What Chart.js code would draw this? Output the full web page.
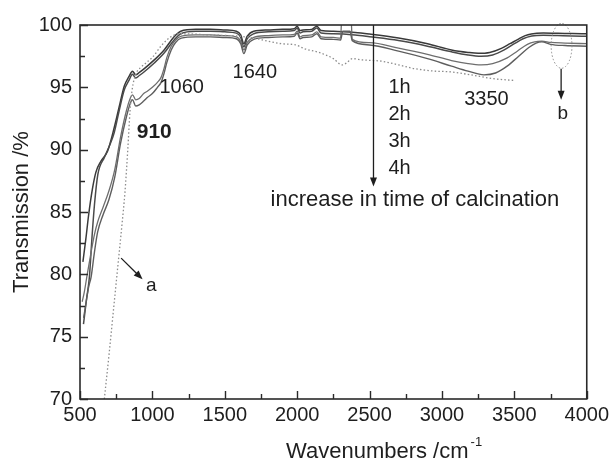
<!DOCTYPE html>
<html>
<head>
<meta charset="utf-8">
<script src="https://cdn.jsdelivr.net/npm/chart.js@4/dist/chart.umd.min.js"></script>
<style>
	body	{ margin: 0; background: #fff; }
	canvas	{ display: block; }
</style>
</head>
<body>
<canvas id="ftir" width="613" height="466"></canvas>
<script>
// tick values
const xTicks	= [ 500, 1000, 1500, 2000, 2500, 3000, 3500, 4000 ];
const yTicks	= [ 70, 75, 80, 85, 90, 95, 100 ];

// 1h
const wn1h	= [ 520, 540, 560, 585, 610, 646, 691, 737, 770, 806, 840, 862, 885, 910, 944, 1013, 1081, 1150, 1196, 1300, 1400, 1500, 1580, 1610, 1632, 1655, 1700, 1800, 1900, 1980, 2000, 2020, 2040, 2100, 2136, 2165, 2250, 2400, 2500, 2700, 2900, 3066, 3180, 3250, 3330, 3410, 3470, 3525, 3575, 3617, 3700, 3800, 3900, 4000 ];
const tr1h	= [ 81.0, 82.8, 84.8, 86.8, 88.2, 89.1, 89.9, 91.8, 93.4, 95.1, 95.9, 96.3, 96.0, 96.2, 96.5, 97.2, 98.0, 99.06, 99.5, 99.65, 99.65, 99.6, 99.5, 99.2, 98.5, 99.1, 99.5, 99.6, 99.65, 99.7, 99.9, 99.55, 99.6, 99.65, 99.9, 99.55, 99.5, 99.4, 99.27, 98.95, 98.5, 98.0, 97.8, 97.73, 97.8, 98.13, 98.5, 98.85, 99.15, 99.28, 99.35, 99.33, 99.32, 99.3 ];

// 2h
const wn2h	= [ 524, 545, 565, 583, 600, 623, 669, 710, 737, 770, 806, 840, 862, 885, 910, 944, 1013, 1081, 1150, 1196, 1300, 1400, 1500, 1580, 1610, 1632, 1655, 1700, 1800, 1900, 1980, 2000, 2020, 2040, 2100, 2136, 2165, 2250, 2400, 2500, 2700, 2900, 3066, 3180, 3270, 3350, 3430, 3500, 3560, 3620, 3700, 3800, 3900, 4000 ];
const tr2h	= [ 76.0, 78.0, 79.8, 83.0, 85.6, 88.0, 89.4, 90.5, 91.4, 93.1, 94.8, 95.6, 96.05, 95.75, 95.95, 96.25, 96.95, 97.75, 98.8, 99.3, 99.5, 99.5, 99.45, 99.35, 99.0, 98.25, 98.9, 99.3, 99.45, 99.5, 99.55, 99.75, 99.35, 99.45, 99.5, 99.75, 99.35, 99.3, 99.2, 99.06, 98.75, 98.3, 97.85, 97.6, 97.5, 97.6, 98.0, 98.5, 98.9, 99.12, 99.18, 99.15, 99.12, 99.1 ];

// 3h
const wn3h	= [ 515, 530, 550, 577, 600, 622, 660, 700, 740, 780, 820, 850, 863, 885, 909, 940, 967, 1000, 1035, 1060, 1080, 1100, 1130, 1160, 1200, 1300, 1400, 1500, 1580, 1610, 1632, 1655, 1700, 1800, 1900, 1980, 2000, 2020, 2040, 2100, 2136, 2165, 2250, 2300, 2308, 2372, 2380, 2500, 2700, 2900, 3066, 3180, 3270, 3350, 3440, 3520, 3590, 3640, 3690, 3750, 3850, 4000 ];
const tr3h	= [ 77.8, 78.6, 80.0, 81.8, 83.2, 84.2, 85.4, 86.7, 88.4, 91.0, 93.1, 94.2, 94.4, 94.0, 94.1, 94.5, 94.7, 95.0, 95.4, 95.8, 96.5, 97.4, 98.3, 98.8, 99.1, 99.2, 99.2, 99.15, 99.05, 98.7, 98.0, 98.6, 99.0, 99.15, 99.2, 99.25, 99.5, 99.05, 99.15, 99.2, 99.45, 99.05, 99.0, 98.95, 100.6, 100.6, 98.85, 98.58, 98.15, 97.65, 97.15, 96.9, 96.8, 96.9, 97.3, 97.9, 98.45, 98.65, 98.7, 98.6, 98.55, 98.5 ];

// 4h
const wn4h	= [ 525, 540, 560, 577, 600, 622, 660, 700, 740, 780, 820, 850, 863, 885, 909, 940, 967, 1000, 1035, 1060, 1080, 1100, 1130, 1160, 1200, 1300, 1400, 1500, 1580, 1610, 1632, 1655, 1700, 1800, 1900, 1980, 2000, 2020, 2040, 2100, 2136, 2165, 2250, 2300, 2315, 2365, 2380, 2500, 2700, 2900, 3066, 3180, 3290, 3370, 3450, 3530, 3600, 3650, 3690, 3750, 3850, 4000 ];
const tr4h	= [ 76.5, 77.6, 79.0, 79.8, 81.8, 83.4, 84.8, 86.0, 87.8, 90.5, 92.6, 93.8, 94.0, 93.5, 93.6, 93.9, 94.2, 94.5, 95.0, 95.4, 96.1, 97.0, 98.0, 98.6, 98.95, 99.05, 99.05, 99.0, 98.9, 98.5, 97.7, 98.4, 98.85, 99.0, 99.05, 99.1, 99.35, 98.9, 99.0, 99.05, 99.3, 98.9, 98.85, 98.8, 99.5, 99.5, 98.75, 98.4, 97.9, 97.3, 96.7, 96.3, 96.0, 96.15, 96.7, 97.5, 98.2, 98.55, 98.65, 98.45, 98.35, 98.3 ];

// curve a (dotted)
const wnA	= [ 668, 700, 730, 760, 790, 810, 830, 845, 860, 887, 920, 960, 1000, 1059, 1100, 1150, 1200, 1400, 1600, 1700, 1760, 1890, 1990, 2050, 2150, 2250, 2310, 2340, 2380, 2450, 2580, 2700, 2810, 2950, 3050, 3200, 3350, 3500 ];
const trA	= [ 70.0, 73.5, 77.0, 80.5, 84.0, 86.5, 90.0, 93.0, 94.8, 96.1, 96.6, 97.0, 97.4, 98.3, 98.8, 99.2, 99.3, 99.2, 99.1, 98.95, 98.8, 98.5, 98.4, 98.1, 97.8, 97.3, 96.8, 96.95, 97.3, 97.2, 97.1, 96.8, 96.5, 96.3, 96.25, 96.0, 95.7, 95.55 ];

const FONT	= '"Liberation Sans", Arial, sans-serif';
const INK	= '#1e1e1e';

// text notes, placed in data coordinates
const notes	= [
	{ text: '910',	x: 1013,	y: 91.4,	size: 21,	bold: true,	align: 'center' },
	{ text: '1060',	x: 1202,	y: 95.0,	size: 20,	align: 'center' },
	{ text: '1640',	x: 1707,	y: 96.2,	size: 20,	align: 'center' },
	{ text: '3350',	x: 3307,	y: 94.0,	size: 20,	align: 'center' },
	{ text: '1h',	x: 2630,	y: 94.95,	size: 20,	align: 'left' },
	{ text: '2h',	x: 2630,	y: 92.8,	size: 20,	align: 'left' },
	{ text: '3h',	x: 2630,	y: 90.65,	size: 20,	align: 'left' },
	{ text: '4h',	x: 2630,	y: 88.5,	size: 20,	align: 'left' },
	{ text: 'increase in time of calcination',	x: 2813,	y: 86.0,	size: 22,	align: 'center' },
	{ text: 'a',	x: 993,		y: 79.05,	size: 19,	align: 'center' },
	{ text: 'b',	x: 3834,	y: 92.9,	size: 19,	align: 'center' }
];

const arrows	= [
	{ x0: 2527,	y0: 100,	x1: 2527,	y1: 87.05 },
	{ x0: 784,	y0: 81.3,	x1: 932,	y1: 79.6 },
	{ x0: 3823,	y0: 96.5,	x1: 3823,	y1: 94.0 }
];

const ringB	= { x: 3826, y: 98.33, rx: 72, ry: 1.8 };

function pts( wn, tr ) {
	return wn.map( ( w, i ) => ( { x: w, y: tr[ i ] } ) );
}

function curve( label, wn, tr, color, width, dash ) {
	return {
		label:			label,
		data:			pts( wn, tr ),
		borderColor:	color,
		borderWidth:	width,
		borderDash:		dash || [],
		pointRadius:	0,
		fill:			false,
		cubicInterpolationMode: 'monotone'
	};
}

function drawArrow( ctx, ax, ay, bx, by ) {
	const ang	= Math.atan2( by - ay, bx - ax );
	const len	= 9;
	const half	= 3.5;

	ctx.beginPath();
	ctx.moveTo( ax, ay );
	ctx.lineTo( bx - Math.cos( ang ) * len * 0.8, by - Math.sin( ang ) * len * 0.8 );
	ctx.stroke();

	ctx.beginPath();
	ctx.moveTo( bx, by );
	ctx.lineTo( bx - Math.cos( ang ) * len - Math.sin( ang ) * half, by - Math.sin( ang ) * len + Math.cos( ang ) * half );
	ctx.lineTo( bx - Math.cos( ang ) * len + Math.sin( ang ) * half, by - Math.sin( ang ) * len - Math.cos( ang ) * half );
	ctx.closePath();
	ctx.fill();
}

// frame, inward ticks, x title with superscript
const frame = {
	id: 'frame',
	afterDraw( chart ) {
		const ctx	= chart.ctx;
		const a		= chart.chartArea;
		const xs	= chart.scales.x;
		const ys	= chart.scales.y;

		ctx.save();
		ctx.strokeStyle	= '#2a2a2a';
		ctx.lineWidth	= 1.6;
		ctx.strokeRect( a.left, a.top, a.right - a.left, a.bottom - a.top );

		ctx.lineWidth	= 1.4;
		ctx.beginPath();
		for ( let v = 500; v <= 4000; v += 250 ) {
			const px	= Math.round( xs.getPixelForValue( v ) ) + 0.5;
			const len	= ( v % 500 === 0 ) ? 8 : 5;
			ctx.moveTo( px, a.bottom );
			ctx.lineTo( px, a.bottom - len );
		}
		for ( let v = 70; v <= 100; v += 2.5 ) {
			const py	= Math.round( ys.getPixelForValue( v ) ) + 0.5;
			const len	= ( v % 5 === 0 ) ? 8 : 5;
			ctx.moveTo( a.left, py );
			ctx.lineTo( a.left + len, py );
		}
		ctx.stroke();

		// x axis title
		const main	= 'Wavenumbers /cm';
		const sup	= '-1';
		ctx.fillStyle		= INK;
		ctx.textBaseline	= 'alphabetic';
		ctx.textAlign		= 'left';
		ctx.font	= '22px ' + FONT;
		const wMain	= ctx.measureText( main ).width;
		ctx.font	= '13px ' + FONT;
		const wSup	= ctx.measureText( sup ).width;
		const cx	= a.left + ( a.right - a.left ) * 0.6;
		const x0	= cx - ( wMain + wSup + 2 ) / 2;
		const base	= a.bottom + 59;
		ctx.font	= '22px ' + FONT;
		ctx.fillText( main, x0, base );
		ctx.font	= '13px ' + FONT;
		ctx.fillText( sup, x0 + wMain + 2, base - 12 );
		ctx.restore();
	}
};

// arrows, ring b and the text notes
const annotate = {
	id: 'annotate',
	afterDatasetsDraw( chart ) {
		const ctx	= chart.ctx;
		const xs	= chart.scales.x;
		const ys	= chart.scales.y;

		ctx.save();
		ctx.strokeStyle	= INK;
		ctx.fillStyle	= INK;
		ctx.lineWidth	= 1.3;
		for ( const ar of arrows ) {
			drawArrow( ctx, xs.getPixelForValue( ar.x0 ), ys.getPixelForValue( ar.y0 ), xs.getPixelForValue( ar.x1 ), ys.getPixelForValue( ar.y1 ) );
		}

		const cx	= xs.getPixelForValue( ringB.x );
		const cy	= ys.getPixelForValue( ringB.y );
		const rx	= xs.getPixelForValue( ringB.x + ringB.rx ) - cx;
		const ry	= ys.getPixelForValue( ringB.y - ringB.ry ) - cy;
		ctx.strokeStyle	= '#8a8a8a';
		ctx.lineWidth	= 1;
		ctx.setLineDash( [ 1.5, 2 ] );
		ctx.beginPath();
		ctx.ellipse( cx, cy, rx, ry, 0, 0, Math.PI * 2 );
		ctx.stroke();
		ctx.setLineDash( [] );

		ctx.textBaseline	= 'middle';
		for ( const n of notes ) {
			ctx.font		= ( n.bold ? 'bold ' : '' ) + n.size + 'px ' + FONT;
			ctx.textAlign	= n.align;
			ctx.fillText( n.text, xs.getPixelForValue( n.x ), ys.getPixelForValue( n.y ) );
		}
		ctx.restore();
	}
};

const tickFont	= { family: FONT, size: 20 };

new Chart( document.getElementById( 'ftir' ), {
	type: 'line',
	data: {
		datasets: [
			curve( 'a',  wnA,  trA,  '#8c8c8c', 1.3, [ 1.5, 2.2 ] ),
			curve( '4h', wn4h, tr4h, '#5e5e5e', 1.4 ),
			curve( '3h', wn3h, tr3h, '#6e6e6e', 1.3 ),
			curve( '2h', wn2h, tr2h, '#4a4a4a', 1.5 ),
			curve( '1h', wn1h, tr1h, '#3a3a3a', 1.5 )
		]
	},
	options: {
		responsive:	false,
		animation:	false,
		devicePixelRatio: 1,
		layout:		{ padding: { left: 0, top: 25, right: 24, bottom: 0 } },
		plugins:	{ legend: { display: false }, tooltip: { enabled: false } },
		scales: {
			x: {
				type:	'linear',
				min:	500,
				max:	4000,
				afterBuildTicks: s => { s.ticks = xTicks.map( v => ( { value: v } ) ); },
				afterFit: s => { s.height = 67; },
				grid:	{ display: false, drawTicks: false },
				border:	{ display: false },
				ticks:	{ font: tickFont, color: INK, padding: 4, maxRotation: 0, autoSkip: false, callback: v => String( v ) }
			},
			y: {
				type:	'linear',
				min:	70,
				max:	100,
				afterBuildTicks: s => { s.ticks = yTicks.map( v => ( { value: v } ) ); },
				afterFit: s => { s.width = 80; },
				grid:	{ display: false, drawTicks: false },
				border:	{ display: false },
				ticks:	{ font: tickFont, color: INK, padding: 8, autoSkip: false, callback: v => String( v ) },
				title:	{ display: true, text: 'Transmission /%', color: INK, font: { family: FONT, size: 22 }, padding: { top: 9, bottom: 0 } }
			}
		}
	},
	plugins: [ frame, annotate ]
} );
</script>
</body>
</html>
